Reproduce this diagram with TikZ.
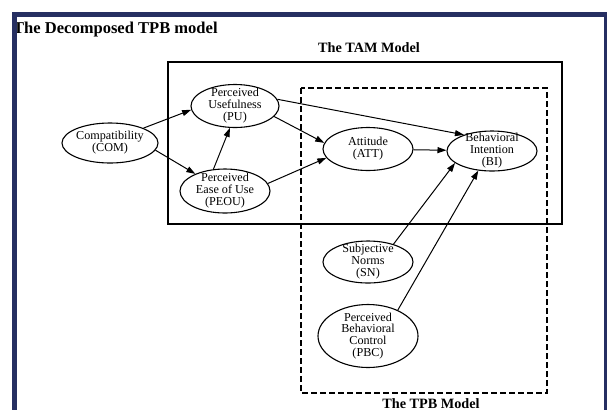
\documentclass[tikz,border=0pt]{standalone}
\usepackage{fontspec}
\setmainfont{Liberation Serif}
\usepackage{tikz}
\usetikzlibrary{arrows.meta,shapes.geometric}
\definecolor{frameblue}{RGB}{38,47,98}

\begin{document}
\begin{tikzpicture}[y=-1bp,x=1bp,
	ell/.style 2 args={draw, ellipse, line width=1.1bp, inner sep=0pt, minimum width=#1, minimum height=#2},
	txt/.style={align=center, inner sep=0pt, font=\fontsize{12.2}{12}\selectfont},
	arr/.style={-{Triangle[length=9bp,width=6bp]}, line width=1bp},
	heading/.style={anchor=base, inner sep=0pt, font=\fontsize{14.3}{14}\selectfont\bfseries}]
	\useasboundingbox (0,0) rectangle (607,410);
	\fill[white] (0,0) rectangle (607,410);

	% the two models
	\draw[line width=2bp] (168,62) rectangle (562,224);
	\draw[line width=1.4bp, dash pattern=on 6bp off 3bp] (301,88) rectangle (547,393);

	\node[heading, anchor=base west, font=\fontsize{16.6}{16}\selectfont\bfseries] (title) at (13,33) {The Decomposed TPB model};
	\node[heading] (tam) at (369,52) {The TAM Model};
	\node[heading] (tpb) at (431,408) {The TPB Model};

	% constructs
	\node[ell={96bp}{40bp}, label={[txt]center:Compatibility\\(COM)}] (com) at (110,143) {};
	\node[ell={88bp}{43bp}, label={[txt]center:Perceived\\Usefulness\\(PU)}] (pu) at (235,106) {};
	\node[ell={90bp}{44bp}, label={[txt]center:Perceived\\Ease of Use\\(PEOU)}] (peou) at (225,191) {};
	\node[ell={90bp}{43bp}, label={[txt]center:Attitude\\(ATT)}] (att) at (368,149) {};
	\node[ell={90bp}{40bp}, label={[txt]center:Behavioral\\Intention\\(BI)}] (bi) at (492,151) {};
	\node[ell={90bp}{42bp}, label={[txt]center:Subjective\\Norms\\(SN)}] (sn) at (368,262) {};
	\node[ell={100bp}{63bp}, label={[txt]center:Perceived\\Behavioral\\Control\\(PBC)}] (pbc) at (368,336) {};

	% paths
	\draw[arr] (com.24) -- (pu.185);
	\draw[arr] (com.-9) -- (peou.150);
	\draw[arr] (peou.118) -- (pu.257);
	\draw[arr] (pu.-15) -- (att.172);
	\draw[arr] (peou.10) -- (att.192);
	\draw[arr] (pu.9) -- (bi.150);
	\draw[arr] (att) -- (bi);
	\draw[arr] (sn.35) -- (bi.198);
	\draw[arr] (pbc.41) -- (bi.235);

	% frame
	\fill[frameblue] (12,12) rectangle (607,17);
	\fill[frameblue] (12,12) rectangle (17,410);
	\fill[frameblue] (604,12) rectangle (607,410);
\end{tikzpicture}
\end{document}
